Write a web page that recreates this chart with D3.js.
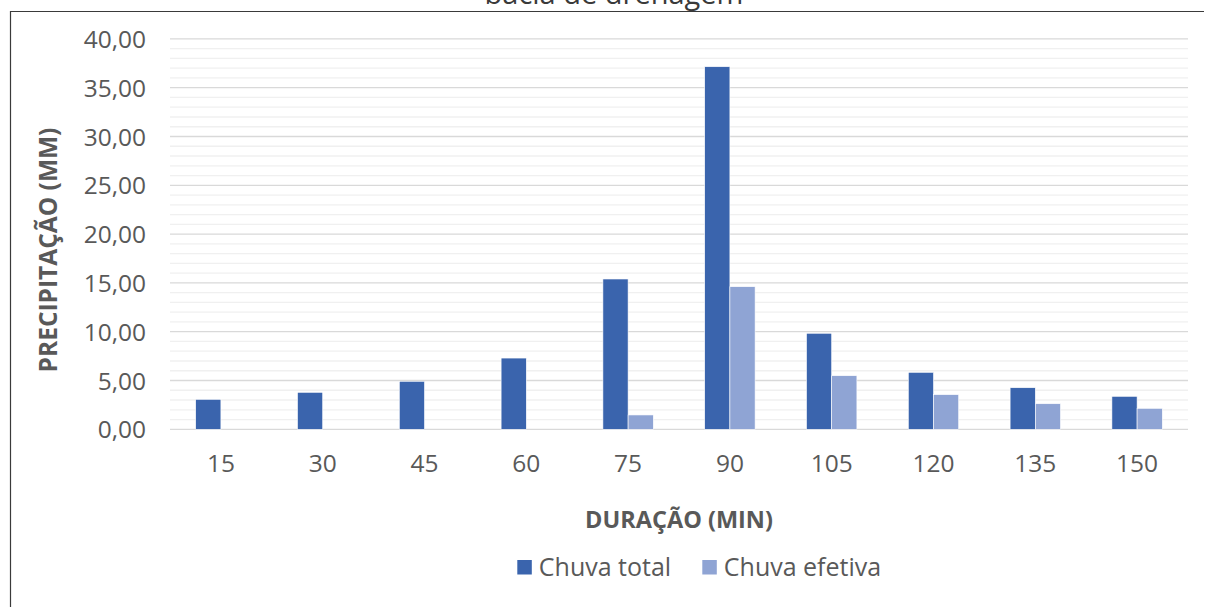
<!DOCTYPE html>
<html>
<head>
<meta charset="utf-8">
<script src="https://cdn.jsdelivr.net/npm/d3@7"></script>
<style>
  html, body { margin: 0; padding: 0; background: #fff; }
  svg { display: block; }
  text { font-family: "Open Sans", "Liberation Sans", sans-serif; }
</style>
</head>
<body>
<svg id="chart" width="1205" height="607"></svg>
<script>
// Precipitation by storm duration
const durations = ["15", "30", "45", "60", "75", "90", "105", "120", "135", "150"];
const chuvaTotal = [3.07, 3.79, 4.92, 7.30, 15.40, 37.15, 9.84, 5.84, 4.26, 3.38];
const chuvaEfetiva = [0, 0, 0, 0, 1.47, 14.61, 5.49, 3.55, 2.62, 2.15];
const seriesNames = ["Chuva total", "Chuva efetiva"];
const seriesColors = ["#3A64AD", "#8FA4D4"];
const yTicks = [0, 5, 10, 15, 20, 25, 30, 35, 40];
const yMinor = d3.range(0, 41, 1);

const svg = d3.select("#chart");
const W = 1205, H = 607;
const m = { left: 170, right: 1188, top: 38.9, bottom: 429.3 };
const textColor = "#595959";

// outer frame (left and top edges)
svg.append("path")
  .attr("d", `M10.5,${H + 2} V11.5 H1204`)
  .attr("fill", "none")
  .attr("stroke", "#3a3a3a")
  .attr("stroke-width", 1.2);

// title (last line sits at the top edge)
svg.append("text")
  .attr("x", 614).attr("y", 4)
  .attr("text-anchor", "middle")
  .attr("font-size", 29)
  .attr("fill", "#3a3a3a")
  .text("bacia de drenagem");

const x = d3.scaleBand().domain(durations).range([m.left, m.right]).paddingInner(0).paddingOuter(0);
const y = d3.scaleLinear().domain([0, 40]).range([m.bottom, m.top]);

// minor gridlines
svg.append("g").selectAll("line").data(yMinor.filter(v => v % 5 !== 0)).join("line")
  .attr("x1", m.left).attr("x2", m.right)
  .attr("y1", d => y(d)).attr("y2", d => y(d))
  .attr("stroke", "#f0f0f0").attr("stroke-width", 1.3);

// major gridlines
svg.append("g").selectAll("line").data(yTicks).join("line")
  .attr("x1", m.left).attr("x2", m.right)
  .attr("y1", d => y(d)).attr("y2", d => y(d))
  .attr("stroke", "#d9d9d9").attr("stroke-width", 1.3);

// y tick labels
const fmt = v => d3.format(".2f")(v).replace(".", ",");
const yAxis = d3.axisLeft(y).tickValues(yTicks).tickFormat(fmt).tickSize(0).tickPadding(0);
const gy = svg.append("g").attr("transform", "translate(146,0)").call(yAxis);
gy.select(".domain").remove();
gy.selectAll("text")
  .attr("font-family", '"Open Sans", sans-serif')
  .attr("font-size", 24.5)
  .attr("fill", textColor)
  .attr("dy", "0.35em");

// x tick labels
const xAxis = d3.axisBottom(x).tickSize(0).tickPadding(0);
const gx = svg.append("g").attr("transform", `translate(0,${m.bottom + 34.5})`).call(xAxis);
gx.select(".domain").remove();
gx.selectAll("text")
  .attr("font-family", '"Open Sans", sans-serif')
  .attr("font-size", 24.5)
  .attr("fill", textColor)
  .attr("dy", "0.35em");

// bars
const barW = 25.2;
const rows = durations.map((d, i) => ({ d, vals: [chuvaTotal[i], chuvaEfetiva[i]] }));
const groups = svg.append("g").selectAll("g").data(rows).join("g")
  .attr("transform", r => `translate(${x(r.d) + x.bandwidth() / 2 - barW},0)`);
groups.selectAll("rect").data(r => r.vals.map((v, k) => ({ v, k }))).join("rect")
  .filter(o => o.v > 0)
  .attr("x", o => o.k * barW)
  .attr("width", barW)
  .attr("y", o => y(o.v))
  .attr("height", o => y(0) - y(o.v))
  .attr("fill", o => seriesColors[o.k])
  .attr("stroke", "#ffffff")
  .attr("stroke-width", 0.6);

// axis titles
svg.append("text")
  .attr("transform", "translate(48,250) rotate(-90)")
  .attr("text-anchor", "middle")
  .attr("dy", "0.35em")
  .attr("font-size", 24.5).attr("font-weight", "bold")
  .attr("fill", textColor)
  .text("PRECIPITAÇÃO (MM)");

svg.append("text")
  .attr("x", 679).attr("y", 520)
  .attr("text-anchor", "middle")
  .attr("dy", "0.35em")
  .attr("font-size", 23.5).attr("font-weight", "bold")
  .attr("fill", textColor)
  .text("DURAÇÃO (MIN)");

// legend
const legend = svg.append("g");
const legendX = [517.3, 702.3];
seriesNames.forEach((name, k) => {
  legend.append("rect")
    .attr("x", legendX[k]).attr("y", 560)
    .attr("width", 14.5).attr("height", 14.5)
    .attr("fill", seriesColors[k]);
  legend.append("text")
    .attr("x", legendX[k] + 21.5).attr("y", 567)
    .attr("dy", "0.35em")
    .attr("font-size", 25)
    .attr("fill", textColor)
    .text(name);
});
</script>
</body>
</html>
